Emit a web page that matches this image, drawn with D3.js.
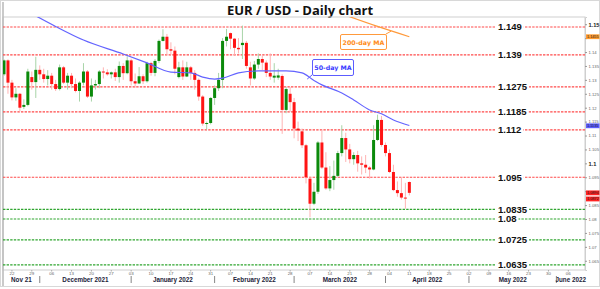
<!DOCTYPE html>
<html>
<head>
<meta charset="utf-8">
<script src="https://cdn.jsdelivr.net/npm/d3@7"></script>
<style>
    body { margin: 0; background: #fff; }
    #chart { width: 600px; height: 289px; }
    svg { display: block; font-family: "Liberation Sans", Arial, sans-serif; }
</style>
</head>
<body>
<div id="chart"></div>
<script>

// daily candles, one per trading day (index = position on the x axis)
const dates = ["2021-11-18","2021-11-19","2021-11-22","2021-11-23","2021-11-24","2021-11-25","2021-11-26","2021-11-29","2021-11-30",
    "2021-12-01","2021-12-02","2021-12-03","2021-12-06","2021-12-07","2021-12-08","2021-12-09","2021-12-10","2021-12-13","2021-12-14",
    "2021-12-15","2021-12-16","2021-12-17","2021-12-20","2021-12-21","2021-12-22","2021-12-23","2021-12-24","2021-12-27","2021-12-28",
    "2021-12-29","2021-12-30","2021-12-31","2022-01-03","2022-01-04","2022-01-05","2022-01-06","2022-01-07","2022-01-10","2022-01-11",
    "2022-01-12","2022-01-13","2022-01-14","2022-01-17","2022-01-18","2022-01-19","2022-01-20","2022-01-21","2022-01-24","2022-01-25",
    "2022-01-26","2022-01-27","2022-01-28","2022-01-31","2022-02-01","2022-02-02","2022-02-03","2022-02-04","2022-02-07","2022-02-08",
    "2022-02-09","2022-02-10","2022-02-11","2022-02-14","2022-02-15","2022-02-16","2022-02-17","2022-02-18","2022-02-21","2022-02-22",
    "2022-02-23","2022-02-24","2022-02-25","2022-02-28","2022-03-01","2022-03-02","2022-03-03","2022-03-04","2022-03-07","2022-03-08",
    "2022-03-09","2022-03-10","2022-03-11","2022-03-14","2022-03-15","2022-03-16","2022-03-17","2022-03-18","2022-03-21","2022-03-22",
    "2022-03-23","2022-03-24","2022-03-25","2022-03-28","2022-03-29","2022-03-30","2022-03-31","2022-04-01","2022-04-04","2022-04-05",
    "2022-04-06","2022-04-07","2022-04-08","2022-04-11"];

const open = [1.1320,1.1370,1.1290,1.1237,1.1250,1.1203,1.1210,1.1310,1.1292,1.1336,1.1320,1.1303,1.1315,1.1285,1.1267,1.1345,1.1290,
    1.1315,1.1285,1.1260,1.1290,1.1330,1.1240,1.1280,1.1285,1.1330,1.1327,1.1320,1.1327,1.1310,1.1350,1.1324,1.1370,1.1295,1.1287,
    1.1313,1.1295,1.1360,1.1325,1.1368,1.1440,1.1455,1.1410,1.1405,1.1310,1.1345,1.1312,1.1345,1.1325,1.1300,1.1240,1.1143,1.1145,
    1.1235,1.1270,1.1300,1.1440,1.1468,1.1448,1.1415,1.1425,1.1433,1.1345,1.1305,1.1355,1.1375,1.1362,1.1325,1.1308,1.1308,1.1314,
    1.1192,1.1250,1.1220,1.1125,1.1115,1.1065,1.0945,1.0855,1.0898,1.1075,1.0985,1.0910,1.0940,1.0955,1.1037,1.1091,1.1050,1.1015,
    1.1030,1.1000,1.0995,1.0985,1.0978,1.1084,1.1156,1.1066,1.1037,1.0969,1.0904,1.0893,1.0877,1.0933];
const high = [1.1374,1.1374,1.1300,1.1270,1.1253,1.1230,1.1340,1.1330,1.1383,1.1352,1.1340,1.1335,1.1325,1.1300,1.1355,1.1350,1.1325,
    1.1325,1.1305,1.1295,1.1360,1.1335,1.1305,1.1300,1.1335,1.1345,1.1338,1.1330,1.1340,1.1366,1.1360,1.1385,1.1376,1.1323,1.1346,
    1.1320,1.1365,1.1365,1.1375,1.1445,1.1482,1.1465,1.1435,1.1420,1.1365,1.1370,1.1365,1.1350,1.1335,1.1305,1.1245,1.1150,1.1238,
    1.1280,1.1325,1.1450,1.1483,1.1470,1.1450,1.1450,1.1495,1.1440,1.1365,1.1368,1.1395,1.1390,1.1370,1.1395,1.1360,1.1340,1.1320,
    1.1275,1.1275,1.1235,1.1150,1.1125,1.1070,1.0950,1.0930,1.1080,1.1121,1.1040,1.0990,1.1010,1.1045,1.1137,1.1110,1.1070,1.1040,
    1.1045,1.1025,1.1030,1.0990,1.1137,1.1175,1.1170,1.1075,1.1050,1.0995,1.0935,1.0950,1.0930,1.0935];
const low = [1.1314,1.1250,1.1226,1.1225,1.1186,1.1195,1.1205,1.1265,1.1235,1.1300,1.1290,1.1280,1.1265,1.1260,1.1262,1.1285,1.1265,
    1.1270,1.1255,1.1222,1.1280,1.1235,1.1222,1.1265,1.1270,1.1305,1.1315,1.1305,1.1296,1.1290,1.1300,1.1320,1.1280,1.1272,1.1285,
    1.1285,1.1290,1.1315,1.1313,1.1360,1.1438,1.1390,1.1390,1.1320,1.1305,1.1300,1.1310,1.1300,1.1265,1.1225,1.1135,1.1121,1.1140,
    1.1210,1.1260,1.1270,1.1420,1.1410,1.1390,1.1395,1.1375,1.1340,1.1280,1.1300,1.1340,1.1335,1.1310,1.1300,1.1290,1.1300,1.1106,
    1.1180,1.1185,1.1090,1.1080,1.1055,1.0928,1.0806,1.0850,1.0890,1.0980,1.0905,1.0900,1.0905,1.0950,1.1025,1.1005,1.1000,1.0995,
    1.0970,1.0960,1.0965,1.0945,1.0975,1.1080,1.1060,1.1025,1.0965,1.0900,1.0880,1.0870,1.0837,1.0885];
const close = [1.1370,1.1290,1.1237,1.1250,1.1200,1.1210,1.1330,1.1292,1.1336,1.1320,1.1303,1.1315,1.1285,1.1267,1.1345,1.1290,1.1315,
    1.1285,1.1260,1.1290,1.1330,1.1240,1.1280,1.1285,1.1330,1.1327,1.1320,1.1327,1.1310,1.1350,1.1324,1.1370,1.1295,1.1287,1.1313,
    1.1295,1.1360,1.1325,1.1368,1.1440,1.1455,1.1410,1.1405,1.1340,1.1345,1.1312,1.1345,1.1325,1.1300,1.1240,1.1143,1.1145,1.1235,
    1.1270,1.1300,1.1440,1.1455,1.1448,1.1415,1.1410,1.1433,1.1350,1.1305,1.1355,1.1375,1.1362,1.1325,1.1312,1.1315,1.1316,1.1192,
    1.1267,1.1220,1.1125,1.1118,1.1065,1.0950,1.0855,1.0898,1.1075,1.0985,1.0910,1.0940,1.0955,1.1037,1.1091,1.1050,1.1015,1.1030,
    1.1000,1.0995,1.0985,1.0978,1.1084,1.1156,1.1066,1.1037,1.0969,1.0904,1.0893,1.0877,1.0874,1.0894];

// moving averages (day index, value)
const ma50Day = [8, 13, 20, 30, 36, 42, 47, 50, 53, 55, 59, 64, 71, 75, 78, 80, 85, 88, 92, 95, 98, 102];
const ma50 = [1.1530, 1.1492, 1.1443, 1.1393, 1.1361, 1.1328, 1.1325, 1.1310, 1.1303, 1.1306, 1.1325, 1.1332, 1.1332,
    1.1325, 1.1298, 1.1282, 1.1253, 1.1228, 1.1192, 1.1178, 1.1156, 1.1136];
const ma200Day = [86, 94, 102];
const ma200 = [1.1532, 1.1492, 1.1455];

// horizontal levels
const resistance = [1.149, 1.139, 1.1275, 1.1185, 1.112, 1.095];
const support = [1.0835, 1.08, 1.0725, 1.0635];

// price axis (1.145 and 1.09 sit under the price tags and show no label)
const priceTicks = [1.065, 1.07, 1.075, 1.08, 1.085, 1.09, 1.095, 1.1, 1.105, 1.11, 1.115, 1.12, 1.125, 1.13, 1.135, 1.14, 1.145, 1.15];
const hiddenTickLabels = [1.145, 1.09];
const priceTags = [1.1455, 1.1135, 1.0894, 1.0872];

// time axis
const weekTickDay = [2, 7, 12, 17, 22, 27, 32, 37, 42, 47, 52, 57, 62, 67, 72, 77, 82, 87, 92, 97, 102, 107, 112, 117, 122, 127, 132, 137, 142];
const weekTickLabels = ["22","29","06","13","20","27","03","10","17","24","31","07","14","21","28","07","14","21","28","04","11","18","25","02","09","16","23","30","06"];
const monthStartDay = [9, 32, 53, 73, 96, 117, 139];
const monthLabels = ["Nov 21", "December 2021", "January 2022", "February 2022", "March 2022", "April 2022", "May 2022", "June 2022"];


class CandleVis {

    constructor(parentElement) {
        this.parentElement = parentElement;
        this.candles = dates.map((d, i) => ({day: i, date: d, o: open[i], h: high[i], l: low[i], c: close[i]}));
        this.tagColors = ["#ff9a2e", "#5c5cff", "#ff2222", "#ff2222"];
        this.initVis();
    }

    initVis() {
        let vis = this;

        vis.width = 600;
        vis.height = 289;
        vis.plot = {left: 3, right: 585, top: 17, bottom: 270};

        vis.svg = d3.select("#" + vis.parentElement).append("svg")
            .attr("width", vis.width)
            .attr("height", vis.height);

        // outer frame
        vis.svg.append("rect")
            .attr("x", 0.5).attr("y", 0.5)
            .attr("width", vis.width - 1).attr("height", 286)
            .attr("fill", "#fff")
            .attr("stroke", "#d8d8d8");

        vis.svg.append("text")
            .attr("x", 300).attr("y", 15)
            .attr("text-anchor", "middle")
            .attr("font-family", "'Open Sans', sans-serif")
            .attr("font-weight", 700)
            .attr("font-size", 13)
            .attr("fill", "#111")
            .text("EUR / USD - Daily chart");

        // scales
        vis.x = d3.scaleLinear()
            .domain([-0.25, 146.2])
            .range([vis.plot.left, vis.plot.right]);

        vis.y = d3.scaleLinear()
            .domain([1.06168, 1.15259])
            .range([vis.plot.bottom, vis.plot.top]);

        vis.svg.append("clipPath").attr("id", "plotClip")
            .append("rect")
            .attr("x", vis.plot.left).attr("y", vis.plot.top)
            .attr("width", vis.plot.right - vis.plot.left)
            .attr("height", vis.plot.bottom - vis.plot.top);

        // plot frame
        vis.svg.append("rect")
            .attr("x", vis.plot.left).attr("y", vis.plot.top)
            .attr("width", vis.plot.right - vis.plot.left)
            .attr("height", vis.plot.bottom - vis.plot.top)
            .attr("fill", "none")
            .attr("stroke", "#cfcfcf");
        vis.svg.append("line")
            .attr("x1", vis.plot.left).attr("x2", vis.plot.left)
            .attr("y1", 2).attr("y2", 286)
            .attr("stroke", "#bdbdbd").attr("stroke-width", 1.6);

        vis.chart = vis.svg.append("g").attr("clip-path", "url(#plotClip)");

        vis.drawLevels();
        vis.drawCandles();
        vis.drawAverages();
        vis.drawAxes();
    }

    drawLevels() {
        let vis = this;

        let levels = resistance.map(v => ({v: v, col: "#ff4a4a"}))
            .concat(support.map(v => ({v: v, col: "#2fa52f"})));

        vis.chart.selectAll(".level")
            .data(levels)
            .enter()
            .append("line")
            .attr("class", "level")
            .attr("x1", vis.plot.left).attr("x2", vis.plot.right)
            .attr("y1", d => vis.y(d.v)).attr("y2", d => vis.y(d.v))
            .attr("stroke", d => d.col)
            .attr("stroke-width", 1.2)
            .attr("stroke-dasharray", "2.4,1.2");

        let labels = vis.svg.selectAll(".levelLabel")
            .data(levels)
            .enter()
            .append("g")
            .attr("class", "levelLabel")
            .attr("transform", d => `translate(498, ${vis.y(d.v)})`);

        labels.append("text")
            .attr("y", 3.3)
            .attr("font-weight", 700)
            .attr("font-size", 9.5)
            .attr("fill", "#111")
            .text(d => String(d.v));

        labels.insert("rect", "text")
            .attr("x", -2)
            .attr("y", -4)
            .attr("height", 8)
            .attr("width", function () { return this.parentNode.querySelector("text").getComputedTextLength() + 4; })
            .attr("fill", "#fff");
    }

    drawCandles() {
        let vis = this;
        let up = d => d.c >= d.o;

        vis.chart.selectAll(".wick")
            .data(vis.candles)
            .enter()
            .append("line")
            .attr("class", "wick")
            .attr("x1", d => vis.x(d.day)).attr("x2", d => vis.x(d.day))
            .attr("y1", d => vis.y(d.h)).attr("y2", d => vis.y(d.l))
            .attr("stroke", d => up(d) ? "#a8d4a8" : "#ffb3b3")
            .attr("stroke-width", 1);

        vis.chart.selectAll(".body")
            .data(vis.candles)
            .enter()
            .append("rect")
            .attr("class", "body")
            .attr("x", d => vis.x(d.day) - 1.5)
            .attr("width", 3)
            .attr("y", d => vis.y(Math.max(d.o, d.c)))
            .attr("height", d => Math.max(1, Math.abs(vis.y(d.o) - vis.y(d.c))))
            .attr("fill", d => up(d) ? "#0b8a0b" : "#ff1414");
    }

    drawAverages() {
        let vis = this;

        let line = d3.line()
            .curve(d3.curveMonotoneX)
            .x(d => vis.x(d[0]))
            .y(d => vis.y(d[1]));

        vis.chart.append("path")
            .attr("d", line(ma50Day.map((d, i) => [d, ma50[i]])))
            .attr("fill", "none")
            .attr("stroke", "#6464ff")
            .attr("stroke-width", 1.2);

        vis.chart.append("path")
            .attr("d", line(ma200Day.map((d, i) => [d, ma200[i]])))
            .attr("fill", "none")
            .attr("stroke", "#ff9a3c")
            .attr("stroke-width", 1.2);

        // callouts
        let callouts = [
            {text: "200-day MA", col: "#ff9a3c", txt: "#ff8c1a", x: 340, y: 34, w: 46, h: 15, cx: 386, cy: 34, day: 97.4, v: 1.1475},
            {text: "50-day MA", col: "#5c5cff", txt: "#3a3aff", x: 312, y: 59, w: 41, h: 16, cx: 312, cy: 75, day: 76.3, v: 1.1303}
        ];

        callouts.forEach(c => {
            vis.svg.append("line")
                .attr("x1", c.cx).attr("y1", c.cy)
                .attr("x2", vis.x(c.day)).attr("y2", vis.y(c.v))
                .attr("stroke", c.col).attr("stroke-width", 1);
            vis.svg.append("rect")
                .attr("x", c.x + 0.5).attr("y", c.y + 0.5)
                .attr("width", c.w).attr("height", c.h)
                .attr("rx", 1.5)
                .attr("fill", "#fff")
                .attr("stroke", c.col).attr("stroke-width", 1);
            vis.svg.append("text")
                .attr("x", c.x + c.w / 2 + 0.5).attr("y", c.y + c.h / 2 + 3)
                .attr("text-anchor", "middle")
                .attr("font-family", "'DejaVu Sans', sans-serif")
                .attr("font-weight", 700)
                .attr("font-size", 6.3)
                .attr("fill", c.txt)
                .text(c.text);
        });
    }

    drawAxes() {
        let vis = this;
        let big = d => d === 1.15 || d === 1.1;

        // price axis on the right
        let yAxis = d3.axisRight(vis.y)
            .tickValues(priceTicks)
            .tickSize(2)
            .tickPadding(1.5)
            .tickFormat(d => hiddenTickLabels.includes(d) ? "" : String(+d.toFixed(3)));

        let ya = vis.svg.append("g")
            .attr("transform", `translate(${vis.plot.right}, 0)`)
            .call(yAxis);
        ya.select(".domain").attr("stroke", "#cfcfcf");
        ya.selectAll(".tick line").attr("stroke", "#999");
        ya.selectAll(".tick text")
            .attr("font-family", "'Liberation Sans', Arial, sans-serif")
            .attr("font-size", d => big(d) ? 5.6 : 4.2)
            .attr("font-weight", d => big(d) ? 700 : 400)
            .attr("fill", d => big(d) ? "#222" : "#666");

        // price tags
        let tags = vis.svg.selectAll(".tag")
            .data(priceTags)
            .enter()
            .append("g")
            .attr("class", "tag")
            .attr("transform", d => `translate(586, ${vis.y(d)})`);
        tags.append("rect")
            .attr("y", -2.4).attr("width", 13.5).attr("height", 4.8)
            .attr("fill", (d, i) => vis.tagColors[i]);
        tags.append("text")
            .attr("x", 6.8).attr("y", 1.3)
            .attr("text-anchor", "middle")
            .attr("font-size", 3.8)
            .attr("fill", "#222")
            .text(d => d.toFixed(4));

        // week ticks
        let xa = vis.svg.append("g");
        xa.selectAll(".wtick")
            .data(weekTickDay)
            .enter()
            .append("line")
            .attr("x1", d => vis.x(d)).attr("x2", d => vis.x(d))
            .attr("y1", vis.plot.bottom).attr("y2", vis.plot.bottom + 1.5)
            .attr("stroke", "#aaa");
        xa.selectAll(".wlabel")
            .data(weekTickDay)
            .enter()
            .append("text")
            .attr("x", d => vis.x(d))
            .attr("y", 275.3)
            .attr("text-anchor", "middle")
            .attr("font-size", 4.4)
            .attr("fill", "#666")
            .text((d, i) => weekTickLabels[i]);

        // months
        let bounds = [vis.plot.left].concat(monthStartDay.map(d => vis.x(d)), [vis.plot.right]);
        xa.selectAll(".msep")
            .data(monthStartDay)
            .enter()
            .append("line")
            .attr("x1", d => vis.x(d)).attr("x2", d => vis.x(d))
            .attr("y1", 276).attr("y2", 283)
            .attr("stroke", "#666").attr("stroke-width", 0.8);
        xa.selectAll(".mlabel")
            .data(monthLabels)
            .enter()
            .append("text")
            .attr("x", (d, i) => (bounds[i] + bounds[i + 1]) / 2)
            .attr("y", 281.8)
            .attr("text-anchor", "middle")
            .attr("font-weight", 700)
            .attr("font-size", 6.3)
            .attr("fill", "#1c1c3a")
            .text(d => d);
    }
}

new CandleVis("chart");
</script>
</body>
</html>
